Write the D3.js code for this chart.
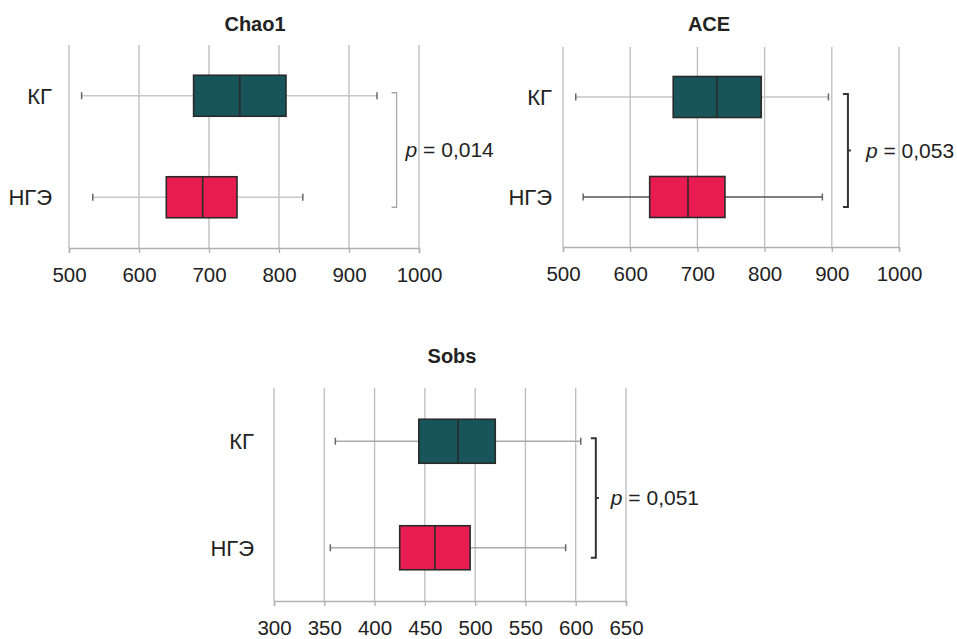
<!DOCTYPE html>
<html lang="ru">
<head>
    <meta charset="UTF-8">
    <title>Chao1, ACE, Sobs</title>
    <script src="https://cdnjs.cloudflare.com/ajax/libs/d3/7.8.5/d3.min.js"></script>
    <style>
        body {
            margin: 0;
            background-color: #fff;
            font-family: "Liberation Sans", Arial, sans-serif;
        }

        svg {
            display: block;
        }

        .tick text {
            font-size: 20.5px;
            fill: #222;
        }

        .title {
            font-size: 20px;
            font-weight: bold;
            fill: #222;
        }

        .group-label {
            font-size: 22px;
            fill: #222;
        }

        .p-label {
            font-size: 21px;
            fill: #222;
        }
    </style>
</head>
<body>
<svg width="957" height="639"></svg>

<script>
    const groups = ["КГ", "НГЭ"];

    // [min, Q1, median, Q3, max]
    const chao1KG = [518, 678, 744, 810, 940];
    const chao1NGE = [534, 639, 691, 740, 834];
    const aceKG = [519, 664, 729, 795, 895];
    const aceNGE = [530, 629, 686, 741, 886];
    const sobsKG = [361, 444, 483, 520, 605];
    const sobsNGE = [356, 425, 460, 495, 590];

    const chao1Ticks = [500, 600, 700, 800, 900, 1000];
    const aceTicks = [500, 600, 700, 800, 900, 1000];
    const sobsTicks = [300, 350, 400, 450, 500, 550, 600, 650];

    const pLabels = ["0,014", "0,053", "0,051"];
    const bracketAt = [968, 924, 620];

    const colors = ["#18555b", "#e91c52"];

    const svg = d3.select("svg");

    const panels = [
        {
            title: "Chao1", stats: [chao1KG, chao1NGE], ticks: chao1Ticks, p: pLabels[0], bracket: bracketAt[0],
            x0: 69, x1: 419, top: 45, bottom: 248, titleX: 255, titleY: 31, labelX: 52, boxH: 41,
            whisker: ["#c8c8c8", "#c8c8c8"], bracketColor: "#a8a8a8", bracketW: 1.3, nub: false, pDx: 9
        },
        {
            title: "ACE", stats: [aceKG, aceNGE], ticks: aceTicks, p: pLabels[1], bracket: bracketAt[1],
            x0: 563, x1: 899, top: 47, bottom: 247, titleX: 709, titleY: 31, labelX: 552, boxH: 41,
            whisker: ["#c4c4c4", "#555"], bracketColor: "#333", bracketW: 2, nub: true, pDx: 18
        },
        {
            title: "Sobs", stats: [sobsKG, sobsNGE], ticks: sobsTicks, p: pLabels[2], bracket: bracketAt[2],
            x0: 274, x1: 626, top: 388, bottom: 601, titleX: 452, titleY: 363, labelX: 254, boxH: 44,
            whisker: ["#aaa", "#aaa"], bracketColor: "#333", bracketW: 2, nub: true, pDx: 15
        }
    ];

    panels.forEach(cfg => {
        const g = svg.append("g");

        const x = d3.scaleLinear()
            .domain(d3.extent(cfg.ticks))
            .range([cfg.x0, cfg.x1]);

        const y = d3.scalePoint()
            .domain(groups)
            .range([cfg.top, cfg.bottom])
            .padding(0.5);

        // grid lines
        g.selectAll(".grid")
            .data(cfg.ticks)
            .enter()
            .append("line")
            .attr("x1", d => x(d))
            .attr("x2", d => x(d))
            .attr("y1", cfg.top)
            .attr("y2", cfg.bottom)
            .attr("stroke", "#bcbcbc")
            .attr("stroke-width", 1.3);

        // x axis
        const axis = g.append("g")
            .attr("transform", `translate(0,${cfg.bottom})`)
            .call(d3.axisBottom(x).tickValues(cfg.ticks).tickSize(5).tickPadding(14).tickFormat(d3.format("d")));
        axis.select(".domain").attr("stroke", "#b0b0b0").attr("stroke-width", 1.5);
        axis.selectAll(".tick line").attr("stroke", "#b0b0b0").attr("stroke-width", 1.3);

        // title
        g.append("text")
            .attr("class", "title")
            .attr("x", cfg.titleX)
            .attr("y", cfg.titleY)
            .attr("text-anchor", "middle")
            .text(cfg.title);

        // group labels
        g.selectAll(".group-label")
            .data(groups)
            .enter()
            .append("text")
            .attr("class", "group-label")
            .attr("x", cfg.labelX)
            .attr("y", d => y(d))
            .attr("dy", "0.36em")
            .attr("text-anchor", "end")
            .text(d => d);

        // boxes
        const box = g.selectAll(".box")
            .data(groups.map((name, i) => ({ name, s: cfg.stats[i], i })))
            .enter()
            .append("g");

        box.append("line")
            .attr("x1", d => x(d.s[0]))
            .attr("x2", d => x(d.s[4]))
            .attr("y1", d => y(d.name))
            .attr("y2", d => y(d.name))
            .attr("stroke", d => cfg.whisker[d.i])
            .attr("stroke-width", 1.5);

        box.selectAll(".cap")
            .data(d => [d.s[0], d.s[4]].map(v => ({ v, name: d.name })))
            .enter()
            .append("line")
            .attr("x1", d => x(d.v))
            .attr("x2", d => x(d.v))
            .attr("y1", d => y(d.name) - 3.5)
            .attr("y2", d => y(d.name) + 3.5)
            .attr("stroke", "#666")
            .attr("stroke-width", 1.5);

        box.append("rect")
            .attr("x", d => x(d.s[1]))
            .attr("width", d => x(d.s[3]) - x(d.s[1]))
            .attr("y", d => y(d.name) - cfg.boxH / 2)
            .attr("height", cfg.boxH)
            .attr("fill", d => colors[d.i])
            .attr("stroke", "#2a2a2a")
            .attr("stroke-width", 1.6);

        box.append("line")
            .attr("x1", d => x(d.s[2]))
            .attr("x2", d => x(d.s[2]))
            .attr("y1", d => y(d.name) - cfg.boxH / 2)
            .attr("y2", d => y(d.name) + cfg.boxH / 2)
            .attr("stroke", "#2a2a2a")
            .attr("stroke-width", 1.6);

        // significance bracket
        const bx = x(cfg.bracket);
        const by0 = y(groups[0]) - 3;
        const by1 = y(groups[1]) + 10;
        const mid = (by0 + by1) / 2;

        g.append("path")
            .attr("d", `M${bx - 5},${by0}H${bx}V${by1}H${bx - 5}` + (cfg.nub ? `M${bx},${mid}h3` : ""))
            .attr("fill", "none")
            .attr("stroke", cfg.bracketColor)
            .attr("stroke-width", cfg.bracketW);

        const pt = g.append("text")
            .attr("class", "p-label")
            .attr("x", bx + cfg.pDx)
            .attr("y", mid + 7);
        pt.append("tspan").attr("font-style", "italic").text("p");
        pt.append("tspan").text(" = " + cfg.p);
    });
</script>
</body>
</html>
